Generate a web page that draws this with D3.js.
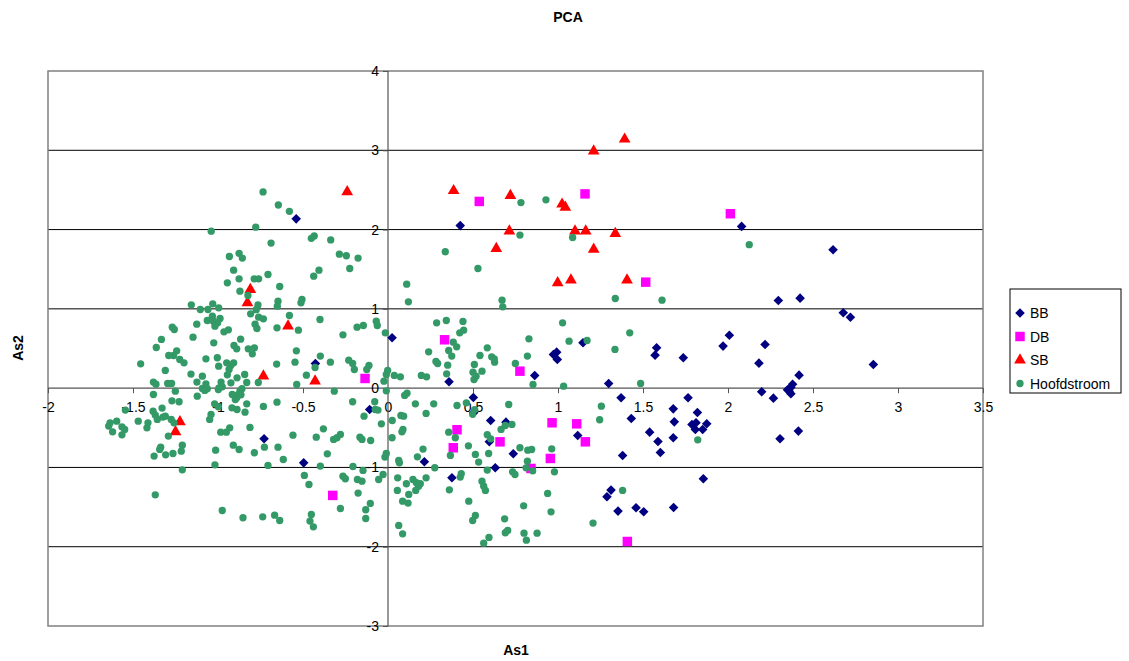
<!DOCTYPE html>
<html><head><meta charset="utf-8">
<script src="https://cdn.jsdelivr.net/npm/d3@7"></script>
<style>
body{margin:0;background:#fff}
text{font-family:Arial,"Liberation Sans",sans-serif;fill:#000}
</style>
</head><body>
<svg id="chart" width="1129" height="661"></svg>
<script>
// PCA scores: [As1, As2] per sample, one array per group
const bb = [[-0.54,2.135],[0.425,2.05],[2.08,2.04],[2.618,1.745],[0.024,0.635],[-0.427,0.311],[0.359,0.08],[-0.108,-0.269],[0.502,-0.118],[0.504,-0.311],[0.604,-0.408],[0.694,-0.429],[0.596,-0.677],[-0.729,-0.639],[-0.496,-0.942],[0.214,-0.929],[0.376,-1.131],[0.631,-1.004],[0.737,-0.828],[0.863,0.16],[0.973,0.425],[0.992,0.454],[0.996,0.361],[1.147,0.572],[1.58,0.509],[1.571,0.416],[1.737,0.383],[1.971,0.53],[2.008,0.668],[1.298,0.059],[1.371,-0.122],[1.765,-0.122],[1.431,-0.383],[1.678,-0.261],[1.684,-0.425],[1.82,-0.307],[1.788,-0.458],[1.812,-0.437],[1.808,-0.521],[1.851,-0.521],[1.875,-0.45],[1.539,-0.555],[1.678,-0.626],[1.588,-0.673],[1.116,-0.597],[1.38,-0.849],[1.602,-0.811],[1.855,-1.143],[1.312,-1.286],[1.288,-1.37],[1.353,-1.551],[1.459,-1.509],[1.504,-1.559],[1.68,-1.505],[2.296,1.106],[2.424,1.135],[2.678,0.95],[2.72,0.895],[2.218,0.551],[2.182,0.315],[2.855,0.298],[2.418,0.164],[2.38,0.05],[2.37,0.01],[2.35,-0.02],[2.36,-0.04],[2.37,-0.07],[2.198,-0.046],[2.267,-0.126],[2.414,-0.542],[2.306,-0.639]];

const db = [[0.537,2.355],[1.159,2.45],[2.014,2.2],[1.516,1.337],[0.333,0.61],[-0.135,0.122],[0.776,0.214],[0.406,-0.525],[0.659,-0.677],[0.384,-0.752],[-0.325,-1.353],[0.965,-0.437],[1.11,-0.45],[1.161,-0.677],[0.955,-0.887],[0.841,-1.013],[1.408,-1.934]];

const sb = [[-0.24,2.475],[0.386,2.49],[0.72,2.43],[0.714,1.98],[0.637,1.76],[1.392,3.14],[1.21,2.99],[1.024,2.32],[1.043,2.28],[1.1,1.98],[1.163,1.98],[1.337,1.95],[1.21,1.75],[0.998,1.328],[1.076,1.362],[1.406,1.362],[-0.81,1.244],[-0.827,1.076],[-0.588,0.782],[-0.733,0.151],[-0.429,0.088],[-1.224,-0.425],[-1.25,-0.55]];

const hoofdstroom = [
[-0.735,2.475],[-0.645,2.31],[-0.778,2.03],[-1.04,1.98],[-0.688,1.83],[-0.933,1.66],[-0.876,1.7],[-0.857,1.64],
[-0.58,2.23],[-0.451,1.89],[-0.434,1.92],[-0.337,1.87],[-0.286,1.69],[-0.245,1.67],[-0.176,1.64],[0.337,1.72],
[0.782,2.34],[0.929,2.375],[2.125,1.81],[0.776,1.93],[1.086,1.9],
[-0.908,1.488],[-0.876,1.379],[-0.787,1.379],[-0.761,1.379],[-0.706,1.433],[-0.945,1.328],[-0.637,1.282],[-0.871,1.223],[-0.824,1.169],[-0.765,1.05],[-0.775,0.99],[-0.647,1.097],[-0.651,1.034],[-1.157,1.051],[-1.104,0.992],[-1.059,0.992],[-1.031,1.063],[-0.996,1.013],[-1.033,0.908],[-1.063,0.853],[-1.027,0.845],[-0.988,0.879],[-1.002,0.824],[-1.125,0.807],[-1.269,0.769],[-1.257,0.74],[-1.018,0.782],[-0.965,0.71],[-0.939,0.736],[-0.808,0.937],[-0.761,0.895],[-0.733,0.874],[-0.782,0.807],[-0.771,0.752],[-0.653,0.761],[-1.147,0.643],[-1.333,0.614],[-1.363,0.513],[-1.025,0.572],[-0.867,0.618],[-0.906,0.538],[-0.89,0.496],[-0.822,0.496],[-0.786,0.509],[-0.798,0.433],[-1.29,0.412],[-1.261,0.412],[-1.243,0.471],[-1.225,0.361],[-1.2,0.319],[-1.455,0.307],[-1.071,0.37],[-1.004,0.383],[-0.949,0.319],[-0.925,0.286],[-0.935,0.235],[-0.908,0.319],[-0.996,0.277],[-0.655,0.303],[-1.31,0.223],[-1.159,0.177],[-1.092,0.151],[-0.945,0.168],[-0.888,0.13],[-0.843,0.172],[-0.763,0.071],[-0.831,0.071],[-0.924,0.067],[-0.982,0.076],[-0.975,0.017],[-0.994,0.004],[-0.998,-0.017],[-1.124,0.076],[-1.071,0.055],[-1.092,-0.004],[-1.063,-0.008],[-1.078,-0.029],[-1.38,0.076],[-1.365,0.05],[-1.296,0.059],[-1.273,0.059],[-1.251,-0.038],[-1.38,-0.08],[-1.122,-0.101],[-0.916,-0.08],[-0.89,-0.122],[-0.871,-0.038],[-0.859,-0.008],[-0.898,-0.143],[-0.884,-0.084],[-0.865,-0.084],[-0.831,-0.198],[-0.733,-0.231],[-0.653,-0.177],[-1.271,-0.16],[-1.229,-0.172],[-1.02,-0.198],[-0.998,-0.235],[-0.918,-0.248],[-0.888,-0.269],[-0.841,-0.303],[-1.545,-0.277],[-1.382,-0.29],[-1.369,-0.34],[-1.357,-0.395],[-1.329,-0.252],[-1.324,-0.365],[-1.31,-0.353],[-1.469,-0.416],[-1.412,-0.437],[-1.418,-0.5],[-1.635,-0.437],[-1.596,-0.416],[-1.643,-0.479],[-1.62,-0.551],[-1.565,-0.488],[-1.549,-0.521],[-1.565,-0.589],[-1.275,-0.395],[-1.259,-0.437],[-1.292,-0.605],[-1.049,-0.395],[-1.041,-0.332],[-0.931,-0.5],[-0.984,-0.555],[-0.951,-0.555],[-0.812,-0.496],
[-1.337,-0.744],[-1.343,-0.773],[-1.376,-0.857],[-1.308,-0.841],[-1.265,-0.824],[-1.216,-0.795],[-1.21,-0.719],[-1.014,-0.782],[-1.018,-0.967],[-1.21,-1.03],[-0.91,-0.719],[-0.876,-0.774],[-0.786,-0.815],[-0.727,-0.744],[-0.647,-0.744],[-0.706,-0.975],[-0.616,-0.9],[-1.369,-1.345],[-0.975,-1.543],[-0.853,-1.635],[-0.737,-1.623],[-0.667,-1.602],[-0.637,-1.669],
[-0.406,1.488],[-0.437,1.412],[-0.225,1.509],[0.529,1.509],[0.11,1.311],[0.12,1.089],[-0.506,1.118],[-0.512,1.076],[0.671,1.11],[0.675,1.026],[-0.58,0.916],[-0.527,0.731],[-0.4,0.866],[-0.265,0.673],[-0.182,0.769],[-0.145,0.79],[-0.069,0.845],[-0.063,0.79],[-0.016,0.698],[0.286,0.824],[0.343,0.853],[0.441,0.841],[0.445,0.731],[0.422,0.698],[0.384,0.58],[0.404,0.521],[0.357,0.475],[0.375,0.404],[0.351,0.29],[0.239,0.458],[0.282,0.336],[0.292,0.311],[0.541,0.412],[0.508,0.298],[0.584,0.509],[0.61,0.395],[0.627,0.328],[0.625,0.37],[0.553,0.214],[0.5,0.202],[0.518,0.151],[0.506,0.109],[0.749,0.311],[-0.539,0.471],[-0.547,0.328],[-0.429,0.26],[-0.398,0.404],[-0.339,0.328],[-0.48,0.164],[-0.537,0.046],[-0.231,0.353],[-0.208,0.311],[-0.198,0.235],[-0.112,0.286],[-0.125,0.235],[-0.002,0.223],[-0.01,0.172],[-0.024,0.088],[0.037,0.16],[0.073,0.143],[0.196,0.16],[0.227,0.143],[0.345,0.181],[-0.316,-0.038],[-0.01,-0.034],[0.112,-0.063],[0.098,-0.092],[-0.208,-0.172],[-0.075,-0.269],[-0.059,-0.277],[-0.078,-0.172],[-0.141,-0.353],[0.161,-0.198],[0.224,-0.319],[0.269,-0.198],[0.406,-0.219],[0.461,-0.185],[0.498,-0.33],[0.51,-0.27],[0.71,-0.206],[0.729,-0.458],[0.69,-0.471],[0.665,-0.521],[0.584,-0.588],[0.604,-0.639],[0.357,-0.555],[0.396,-0.626],[0.025,-0.408],[0.076,-0.345],[0.092,-0.353],[0.088,-0.521],[0.082,-0.551],[-0.039,-0.45],[0.024,-0.626],[-0.38,-0.513],[-0.422,-0.618],[-0.559,-0.593],[-0.32,-0.647],[-0.28,-0.584],[-0.3,-0.626],[-0.165,-0.618],[-0.153,-0.647],[-0.102,-0.66],
[-0.492,-1.101],[-0.465,-1.215],[-0.398,-0.983],[-0.357,-0.828],[-0.206,-0.988],[-0.147,-1.038],[-0.18,-1.152],[-0.153,-1.173],[-0.265,-1.11],[-0.251,-1.143],[-0.28,-1.518],[-0.176,-1.324],[-0.104,-1.454],[-0.131,-1.534],[-0.131,-1.644],[-0.451,-1.593],[-0.459,-1.677],[-0.439,-1.749],[-0.055,-1.152],[-0.029,-1.089],[-0.018,-0.87],[-0.01,-0.824],[0.057,-1.131],[0.055,-1.29],[0.063,-0.912],[0.067,-0.942],[0.108,-1.206],[0.086,-1.425],[0.118,-1.45],[0.122,-1.341],[0.147,-1.152],[0.167,-1.193],[0.18,-1.236],[0.163,-1.29],[0.19,-1.206],[0.224,-1.131],[0.173,-0.866],[0.206,-0.769],[0.275,-1.004],[0.063,-1.732],[0.086,-1.837],[0.367,-0.849],[0.361,-1.282],[0.431,-1.08],[0.425,-1.122],[0.475,-1.425],[0.514,-1.606],[0.498,-1.669],[0.473,-0.727],[0.514,-0.836],[0.533,-0.933],[0.592,-0.824],[0.553,-1.173],[0.563,-1.236],[0.573,-1.29],[0.594,-1.883],[0.563,-1.955],[0.686,-1.648],[0.69,-1.824],[0.704,-1.795],[0.584,-1.034],[0.733,-1.055],[0.747,-1.089],
[1.337,1.131],[1.612,1.11],[1.027,0.824],[0.829,0.622],[1.065,0.593],[0.82,0.404],[0.853,0.046],[1.033,0.025],[1.171,0.601],[1.422,0.698],[1.335,0.488],[1.486,0.059],[1.255,-0.227],[1.245,-0.399],[1.822,-0.652],
[0.776,-0.752],[0.822,-0.782],[0.845,-0.774],[0.963,-0.765],[0.82,-0.921],[0.812,-1.005],[0.851,-1.043],[0.979,-1.055],[0.939,-1.328],[0.798,-1.484],[0.959,-1.56],[0.8,-1.829],[0.814,-1.917],[0.877,-1.829],[1.38,-1.29],[1.206,-1.702]
];

const seriesNames = ["BB", "DB", "SB", "Hoofdstroom"];
const seriesColors = ["#000080", "#FF00FF", "#FF0000", "#339966"];
const xTickValues = [-2, -1.5, -1, -0.5, 0, 0.5, 1, 1.5, 2, 2.5, 3, 3.5];
const yTickValues = [-3, -2, -1, 0, 1, 2, 3, 4];

const svg = d3.select("#chart");
const plot = {left: 48, right: 983, top: 71, bottom: 626};

const x = d3.scaleLinear().domain([-2, 3.5]).range([plot.left, plot.right]);
const y = d3.scaleLinear().domain([-3, 4]).range([plot.bottom, plot.top]);

// horizontal gridlines
svg.append("g").selectAll("line")
  .data(yTickValues.filter(v => v > -3 && v < 4 && v !== 0))
  .join("line")
  .attr("x1", plot.left).attr("x2", plot.right)
  .attr("y1", d => y(d)).attr("y2", d => y(d))
  .attr("stroke", "#000").attr("stroke-width", 1);

// plot area frame
svg.append("rect")
  .attr("x", plot.left).attr("y", plot.top)
  .attr("width", plot.right - plot.left).attr("height", plot.bottom - plot.top)
  .attr("fill", "none").attr("stroke", "#808080").attr("stroke-width", 1.5);

// axes crossing at the origin
const xAxis = d3.axisBottom(x).tickValues(xTickValues).tickSize(5).tickPadding(9)
  .tickFormat(d => String(d));
const yAxis = d3.axisLeft(y).tickValues(yTickValues).tickSize(5).tickPadding(4)
  .tickFormat(d => String(d));

const gx = svg.append("g").attr("transform", `translate(0,${y(0)})`).call(xAxis);
const gy = svg.append("g").attr("transform", `translate(${x(0)},0)`).call(yAxis);
[gx, gy].forEach(g => {
  g.select(".domain").attr("stroke", "#555").attr("stroke-width", 1.2);
  g.selectAll(".tick line").attr("stroke", "#555");
  g.selectAll(".tick text").attr("font-size", 14).attr("font-family", "Arial, 'Liberation Sans', sans-serif").attr("fill", "#000");
});
gy.select(".domain").attr("d", `M0,${plot.top}V${plot.bottom}`);
gx.select(".domain").attr("d", `M${plot.left},0H${plot.right}`);

// marker shapes
const diamond = d3.symbol().type(d3.symbolSquare).size(46);
const square = d3.symbol().type(d3.symbolSquare).size(90);
const triangle = d3.symbol().type(d3.symbolTriangle).size(60);
const circle = d3.symbol().type(d3.symbolCircle).size(42);

function drawSeries(data, sym, color, rotate) {
  svg.append("g").selectAll("path")
    .data(data)
    .join("path")
    .attr("d", sym)
    .attr("transform", d => `translate(${x(d[0])},${y(d[1])})` + (rotate ? " rotate(45)" : ""))
    .attr("fill", color);
}
drawSeries(bb, diamond, seriesColors[0], true);
drawSeries(db, square, seriesColors[1], false);
drawSeries(sb, triangle, seriesColors[2], false);
drawSeries(hoofdstroom, circle, seriesColors[3], false);

// titles
svg.append("text").attr("x", 568).attr("y", 22).attr("text-anchor", "middle")
  .attr("font-size", 14).attr("font-weight", "bold").text("PCA");
svg.append("text").attr("x", 516).attr("y", 655).attr("text-anchor", "middle")
  .attr("font-size", 14).attr("font-weight", "bold").text("As1");
svg.append("text").attr("transform", "translate(23,348) rotate(-90)").attr("text-anchor", "middle")
  .attr("font-size", 14).attr("font-weight", "bold").text("As2");

// legend
const legend = svg.append("g").attr("transform", "translate(1010,289)");
legend.append("rect").attr("width", 111).attr("height", 104)
  .attr("fill", "#fff").attr("stroke", "#000").attr("stroke-width", 1);
const legendSyms = [diamond, square, triangle, circle];
seriesNames.forEach((name, i) => {
  const ry = 24 + i * 23.5;
  legend.append("path").attr("d", legendSyms[i])
    .attr("transform", `translate(10,${ry})` + (i === 0 ? " rotate(45)" : ""))
    .attr("fill", seriesColors[i]);
  legend.append("text").attr("x", 20).attr("y", ry + 5).attr("font-size", 14).text(name);
});
</script>
</body></html>
